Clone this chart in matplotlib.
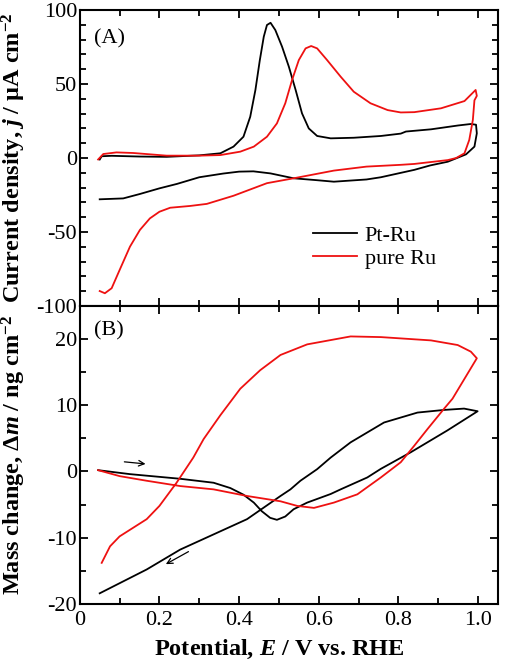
import matplotlib
matplotlib.use('Agg')
import matplotlib.pyplot as plt
from matplotlib.ticker import MultipleLocator

plt.rcParams['font.family'] = 'Liberation Serif'
plt.rcParams['mathtext.fontset'] = 'custom'
plt.rcParams['mathtext.rm'] = 'Liberation Serif:bold'
plt.rcParams['mathtext.it'] = 'Liberation Serif:italic:bold'
plt.rcParams['mathtext.bf'] = 'Liberation Serif:bold'
plt.rcParams['axes.unicode_minus'] = False

# (A) cyclic voltammograms, E / V and j / uA cm-2
ptru_E = [0.05, 0.055, 0.08, 0.15, 0.218, 0.30, 0.353, 0.386, 0.411, 0.428, 0.441, 0.452,
          0.462, 0.470, 0.479, 0.491, 0.508, 0.525, 0.542, 0.558, 0.575, 0.596, 0.63, 0.688,
          0.756, 0.806, 0.819, 0.882, 0.95, 0.982, 0.995, 0.997, 0.991, 0.97, 0.924, 0.88,
          0.84, 0.756, 0.72, 0.638, 0.596, 0.537, 0.479, 0.436, 0.40, 0.36, 0.30, 0.244,
          0.2, 0.151, 0.109, 0.05]
ptru_j = [-1, 1.2, 1.5, 1.0, 0.8, 1.8, 3.2, 7.7, 14.4, 27.9, 46, 66,
          82, 89.9, 91.4, 86.5, 75.2, 61.7, 46, 30.2, 20, 14.9, 13.3, 13.7,
          14.9, 16.5, 17.9, 19.4, 22, 23, 22.5, 16.7, 7.7, 2.5, -2.5, -5,
          -8, -13, -14.5, -16, -15, -13.7, -10.4, -9, -9.2, -10.5, -13, -17.5,
          -20.5, -24.3, -27.3, -27.9]

ru_E = [0.046, 0.059, 0.092, 0.134, 0.218, 0.30, 0.353, 0.403, 0.437, 0.47, 0.495, 0.516,
        0.533, 0.55, 0.567, 0.581, 0.596, 0.621, 0.655, 0.688, 0.73, 0.773, 0.806, 0.84,
        0.907, 0.966, 0.994, 0.997, 0.991, 0.987, 0.978, 0.966, 0.945, 0.924, 0.84, 0.806,
        0.72, 0.638, 0.537, 0.47, 0.386, 0.319, 0.277, 0.227, 0.2, 0.176, 0.151, 0.126,
        0.1, 0.08, 0.063, 0.05]
ru_j = [-1, 2.7, 3.8, 3.4, 1.6, 1.6, 2, 4.3, 7.7, 14.4, 23.4, 37,
        52.7, 66.2, 74.1, 75.7, 74.1, 66.2, 55, 44.8, 37, 32.4, 30.8, 31,
        33.6, 38.5, 46, 42, 39, 25.7, 12.2, 3.2, 0, -1.4, -4, -4.6,
        -5.8, -8.5, -13.7, -17, -25.5, -31, -32.4, -33.6, -36.3, -40.8, -48.6, -59.9,
        -75.7, -88, -91.4, -89.9]

# (B) mass change, dm / ng cm-2
ptru_E_m = [0.046, 0.126, 0.252, 0.336, 0.378, 0.411, 0.437, 0.457, 0.478, 0.495, 0.516,
            0.537, 0.571, 0.63, 0.655, 0.722, 0.756, 0.831, 0.923, 0.999,
            0.965, 0.915, 0.848, 0.764, 0.68, 0.63, 0.596, 0.554, 0.529, 0.504, 0.42,
            0.336, 0.252, 0.168, 0.05]
ptru_m = [0.2, -0.4, -1.1, -1.7, -2.5, -3.5, -4.7, -6.0, -7.0, -7.3, -6.8,
          -5.7, -4.7, -3.4, -2.7, -0.9, 0.4, 2.9, 6.2, 9.1,
          9.5, 9.3, 8.9, 7.4, 4.4, 2.1, 0.35, -1.4, -2.7, -3.7, -7.2,
          -9.5, -11.8, -14.8, -18.4]

ru_E_m = [0.046, 0.1, 0.168, 0.252, 0.336, 0.42, 0.504, 0.546, 0.588, 0.638, 0.697,
          0.756, 0.806, 0.84, 0.873, 0.915, 0.936, 0.997,
          0.982, 0.949, 0.882, 0.756, 0.68, 0.63, 0.571, 0.504, 0.453, 0.403, 0.353,
          0.311, 0.285, 0.243, 0.2, 0.168, 0.1, 0.076, 0.055]
ru_m = [0.2, -0.7, -1.4, -2.2, -2.7, -3.7, -4.5, -5.2, -5.5, -4.7, -3.45,
        -0.9, 1.4, 3.9, 6.4, 9.5, 11, 17.1,
        18.1, 19.1, 19.8, 20.3, 20.4, 19.85, 19.2, 17.6, 15.3, 12.5, 8.5,
        4.9, 2.1, -1.7, -5.2, -7.2, -9.8, -11.3, -13.8]

fig = plt.figure(figsize=(5.05, 6.71), dpi=100)
ax1 = fig.add_axes([0.158, 0.544, 0.828, 0.441])
ax2 = fig.add_axes([0.158, 0.100, 0.828, 0.444])

ax1.plot(ptru_E, ptru_j, color='black', lw=1.3, label='Pt-Ru')
ax1.plot(ru_E, ru_j, color='#ee1111', lw=1.3, label='pure Ru')
ax2.plot(ptru_E_m, ptru_m, color='black', lw=1.3)
ax2.plot(ru_E_m, ru_m, color='#ee1111', lw=1.3)

ax1.set_xlim(0, 1.05)
ax1.set_ylim(-100, 100)
ax2.set_xlim(0, 1.05)
ax2.set_ylim(-20, 25)

ax1.yaxis.set_major_locator(MultipleLocator(50))
ax1.yaxis.set_minor_locator(MultipleLocator(10))
ax2.yaxis.set_minor_locator(MultipleLocator(5))
ax2.set_yticks([-20, -10, 0, 10, 20])
for ax in (ax1, ax2):
    ax.xaxis.set_major_locator(MultipleLocator(0.2))
    ax.xaxis.set_minor_locator(MultipleLocator(0.1))
    ax.tick_params(which='both', direction='in', top=True, right=True, width=1.3,
                   labelsize=16, pad=2)
    ax.tick_params(which='major', length=6)
    ax.tick_params(which='minor', length=4)
    for s in ax.spines.values():
        s.set_linewidth(1.5)
ax1.tick_params(labelbottom=False)
ax2.tick_params(axis='x', pad=5)
ax2.set_xticks([0, 0.2, 0.4, 0.6, 0.8, 1.0])
ax2.set_xticklabels(['0', '0.2', '0.4', '0.6', '0.8', '1.0'])

ax1.set_ylabel(r'Current density, $j$ / μA cm$^{-2}$', fontsize=17.5, fontweight='bold')
ax2.set_ylabel(r'Mass change, Δ$m$ / ng cm$^{-2}$', fontsize=17.5, fontweight='bold')
ax2.set_xlabel(r'Potential, $E$ / V vs. RHE', fontsize=17.5, fontweight='bold')
ax1.yaxis.set_label_coords(-0.125, 0.5)
ax2.yaxis.set_label_coords(-0.125, 0.5)
ax2.xaxis.set_label_coords(0.4775, -0.115)

ax1.text(0.035, 0.935, '(A)', transform=ax1.transAxes, fontsize=16, va='top')
ax2.text(0.035, 0.95, '(B)', transform=ax2.transAxes, fontsize=16, va='top')
ax1.legend(loc='upper left', bbox_to_anchor=(0.53, 0.31), frameon=False, fontsize=16,
           handlelength=2.0, handletextpad=0.35, labelspacing=0.1, borderpad=0)

ax2.annotate('', xy=(0.172, 1.1), xytext=(0.105, 1.5),
             arrowprops=dict(arrowstyle='->', color='black', lw=0.9))
ax2.annotate('', xy=(0.21, -14.2), xytext=(0.279, -11.9),
             arrowprops=dict(arrowstyle='->', color='black', lw=0.9))

fig.savefig('out.png', dpi=100)
